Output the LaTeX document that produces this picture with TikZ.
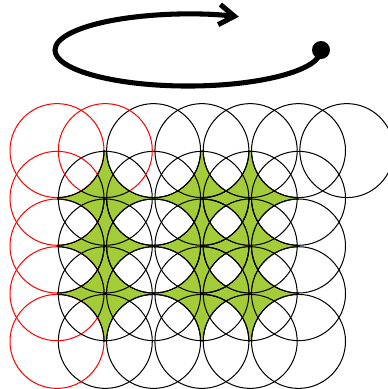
\documentclass[tikz,border=0pt]{standalone}
\usepackage{xcolor}
\usepackage{tikz}
\usetikzlibrary{arrows.meta}

\definecolor{leaf}{RGB}{164,204,57}

\begin{document}
\begin{tikzpicture}
\tikzstyle{ring}=[draw=black, line width=0.6pt]
\tikzstyle{redring}=[draw=red, line width=0.6pt]
\tikzstyle{gap}=[fill=leaf, even odd rule]
\tikzstyle{orbit}=[line width=3pt, -{Straight Barb[length=9pt,width=12pt]}]

\useasboundingbox (0,0) rectangle (8.0625,-8.104);

% orbit with its start point
\coordinate (start) at (6.6875,-1.042);
\draw[orbit] (start) arc[start angle=0, end angle=-292.5, x radius=2.771, y radius=0.75];
\fill (start) circle[radius=0.1875];

% lattice of rings
\begin{scope}[shift={(1.1875cm,-3.1375cm)}, x=1.00625cm, y=-0.99375cm]
\def\rad{0.979cm}
\newcommand{\rings}[1]{%
  \foreach \p in {0,...,5} \foreach \q in {0,...,4} \draw[#1] (\p,\q) circle[radius=\rad];
  \draw[#1] (6,0) circle[radius=\rad];}
\newcommand{\gappath}{(\a-1.5,\b-1.5) rectangle (\a+1.5,\b+1.5)
  (\a-1,\b-1) circle[radius=\rad] (\a+1,\b-1) circle[radius=\rad]
  (\a-1,\b+1) circle[radius=\rad] (\a+1,\b+1) circle[radius=\rad]}

\foreach \p in {1,...,5} \foreach \q in {1,...,4} \draw[ring] (\p,\q) circle[radius=\rad];
\foreach \p in {2,...,6} \draw[ring] (\p,0) circle[radius=\rad];
\foreach \q in {0,...,4} \draw[redring] (0,\q) circle[radius=\rad];
\draw[redring] (1,0) circle[radius=\rad];

% green gaps
\foreach \a/\b in {1/1,1/2,1/3,3/1,4/1,3/2,4/2,3/3,4/3} {
  \begin{scope}
    \clip (\a-1,\b-1) rectangle (\a+1,\b+1);
    \fill[gap] \gappath;
    \draw[ring] (\a-1,\b-1) circle[radius=\rad] (\a+1,\b-1) circle[radius=\rad]
      (\a-1,\b+1) circle[radius=\rad] (\a+1,\b+1) circle[radius=\rad];
  \end{scope}
}
% rings seen through the gaps
\foreach \a/\b in {1/1,1/2,1/3,3/1,4/1,3/2,4/2,3/3,4/3} {
  \begin{scope}[even odd rule]
    \clip (\a-1,\b-1) rectangle (\a+1,\b+1);
    \clip \gappath;
    \rings{ring}
  \end{scope}
}
\end{scope}
\end{tikzpicture}
\end{document}
